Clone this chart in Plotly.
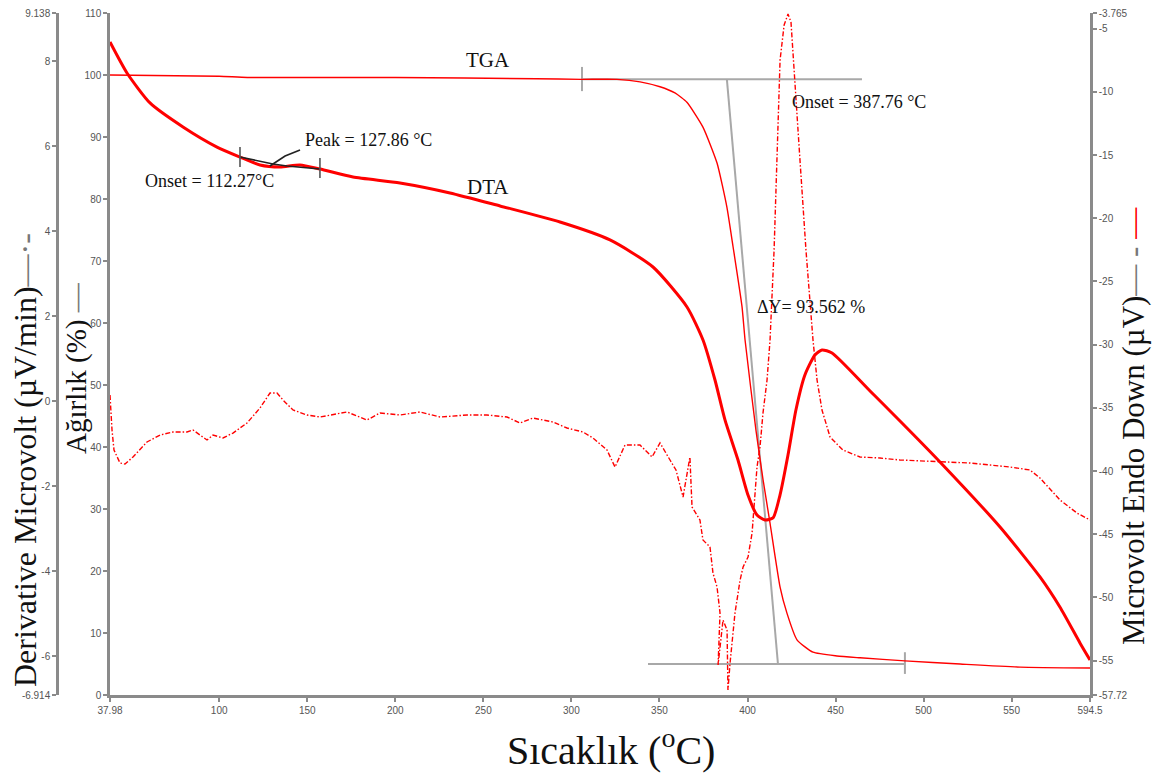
import plotly.graph_objects as go

# ---------------- data ----------------
# TGA : weight % (inner left axis)
tga_T = [37.98, 100, 116, 200, 280, 306, 325.9, 339.0, 350.3, 358.8, 365.6, 374.7, 382.7,
         388.3, 391.8, 396.9, 398.6, 404.8, 408.8, 412.8, 418.5, 422.4, 428.1, 437.2,
         450.8, 463.9, 489.4, 520.7, 554.8, 594.5]
tga_W = [100.0, 99.8, 99.6, 99.6, 99.4, 99.3, 99.3, 98.9, 98.1, 97.1, 95.6, 91.6, 85.8,
         78.7, 72.3, 62.6, 57.3, 42.7, 34.8, 27.7, 17.4, 13.2, 8.9, 6.9,
         6.3, 6.0, 5.5, 5.0, 4.5, 4.35]

# DTA : microvolt endo down (right axis)
dta_T = [37.98, 47.63, 60.69, 79.43, 98.74, 111.80, 123.16, 134.52, 145.87, 157.23, 175.97,
         202.66, 231.05, 259.45, 293.52, 321.91, 346.33, 365.64, 374.73, 381.54, 387.22,
         394.60, 400.28, 405.39, 409.93, 414.48, 418.45, 423.0, 427.5, 432.6, 438.3, 442.3,
         448.0, 469.6, 486.6, 509.3, 543.4, 566.1, 577.4, 588.8, 594.5]
dta_V = [-6.06, -8.51, -10.88, -12.78, -14.37, -15.16, -15.79, -15.95, -15.79, -16.11, -16.74,
         -17.21, -18.00, -19.03, -20.30, -21.72, -23.86, -27.02, -29.63, -32.80, -35.96,
         -39.13, -41.90, -43.48, -43.87, -43.71, -41.90, -38.73, -35.17, -32.40, -30.82, -30.42,
         -30.66, -33.67, -36.04, -39.28, -44.43, -48.38, -50.76, -53.60, -54.95]

# DTG : derivative microvolt (outer left axis)
dtg_T = [37.98, 39.12, 40.25, 43.66, 46.50, 51.04, 58.99, 66.38, 73.76, 81.71, 85.11, 89.09,
         93.06, 96.47, 102.15, 107.83, 115.78, 123.16, 128.84, 132.82, 136.22, 141.90, 149.85,
         157.24, 172.57, 183.93, 191.31, 202.67, 214.02, 225.38, 240.71, 252.07, 263.43,
         270.81, 278.19, 289.55, 297.50, 306.59, 312.27, 320.22, 324.76, 330.44, 338.96,
         345.77, 350.32, 356.0, 359.4, 363.4, 367.3, 368.5, 373.0, 374.7, 378.7, 380.4,
         382.7, 384.4, 383.3, 386.1, 388.4, 388.9, 390.1, 392.9, 395.8, 397.5, 400.3, 402.6,
         404.3, 405.4, 407.1, 408.8, 411.1, 412.8, 415.1, 416.8, 418.5, 420.8, 423.0, 424.7,
         426.99, 429.8, 433.2, 437.2, 439.5, 442.3, 446.9, 454.2, 463.9, 475.2, 486.6, 509.3,
         526.4, 537.7, 549.1, 560.4, 566.1, 577.5, 587.1, 594.5]
dtg_D = [0.147, -0.677, -1.148, -1.454, -1.478, -1.312, -0.959, -0.795, -0.724, -0.724, -0.677,
         -0.795, -0.912, -0.795, -0.865, -0.748, -0.512, -0.159, 0.194, 0.194, 0.029, -0.206,
         -0.324, -0.371, -0.253, -0.442, -0.277, -0.324, -0.253, -0.371, -0.324, -0.324,
         -0.371, -0.512, -0.394, -0.489, -0.630, -0.724, -0.865, -1.148, -1.548, -1.030,
         -1.030, -1.312, -0.983, -1.383, -1.618, -2.254, -1.312, -2.489, -2.795, -3.266,
         -3.431, -4.043, -4.372, -4.984, -6.208, -5.149, -5.384, -6.797, -6.161, -4.984,
         -4.207, -3.901, -3.666, -3.101, -2.254, -1.548, -1.077, -0.277, 0.500, 1.441, 3.560,
         5.984, 8.032, 8.856, 9.114, 8.926, 7.561, 5.678, 3.560, 1.441, 0.500, -0.206, -0.842,
         -1.148, -1.312, -1.336, -1.383, -1.430, -1.454, -1.501, -1.548, -1.618, -1.807,
         -2.325, -2.631, -2.795]

# TGA onset construction lines (weight axis)
tga_upper_T = [306.0, 465.0]
tga_upper_W = [99.3, 99.3]
tga_upper_tick_T = [306.0, 306.0]
tga_upper_tick_W = [101.3, 97.4]
tga_tangent_T = [388.3, 417.3]
tga_tangent_W = [99.3, 5.0]
tga_lower_T = [343.5, 489.4]
tga_lower_W = [5.0, 5.0]
tga_lower_tick_T = [489.4, 489.4]
tga_lower_tick_W = [6.9, 3.4]

# DTA onset/peak construction (right axis)
dta_base_T = [111.8, 130.5, 138.5, 157.2]
dta_base_V = [-15.16, -15.71, -15.87, -16.11]
dta_tick1_T = [111.8, 111.8]
dta_tick1_V = [-14.37, -15.95]
dta_tick2_T = [157.2, 157.2]
dta_tick2_V = [-15.24, -16.82]
dta_call_T = [128.8, 137.4, 145.9]
dta_call_V = [-15.87, -15.08, -14.6]

# axis ticks
x_ticks = [37.98, 100, 150, 200, 250, 300, 350, 400, 450, 500, 550, 594.5]
x_ticklabels = ["37.98", "100", "150", "200", "250", "300", "350", "400", "450", "500", "550", "594.5"]
w_ticks = [0, 10, 20, 30, 40, 50, 60, 70, 80, 90, 100, 110]
v_ticks = [-57.72, -55, -50, -45, -40, -35, -30, -25, -20, -15, -10, -5, -3.765]
v_ticklabels = ["-57.72", "-55", "-50", "-45", "-40", "-35", "-30", "-25", "-20", "-15", "-10", "-5", "-3.765"]
d_ticks = [-6.914, -6, -4, -2, 0, 2, 4, 6, 8, 9.138]
d_ticklabels = ["-6.914", "-6", "-4", "-2", "0", "2", "4", "6", "8", "9.138"]

# ---------------- figure ----------------
RED = "#ff0000"
GRAY = "#a8a8a8"
AX = "#8a8a8a"
W, H = 1153, 780
L_PX, R_PX, T_PX, B_PX = 110, 1090, 13, 695

fig = go.Figure()

# construction lines (gray)
for tx, ty in [(tga_upper_T, tga_upper_W), (tga_upper_tick_T, tga_upper_tick_W),
               (tga_tangent_T, tga_tangent_W), (tga_lower_T, tga_lower_W),
               (tga_lower_tick_T, tga_lower_tick_W)]:
    fig.add_trace(go.Scatter(x=tx, y=ty, mode="lines", line=dict(color=GRAY, width=2),
                             yaxis="y", showlegend=False, hoverinfo="skip"))

fig.add_trace(go.Scatter(x=tga_T, y=tga_W, mode="lines",
                         line=dict(color=RED, width=1.4, shape="spline", smoothing=0.5),
                         yaxis="y", name="TGA", showlegend=False))
fig.add_trace(go.Scatter(x=dtg_T, y=dtg_D, mode="lines",
                         line=dict(color=RED, width=1.4, dash="5px,2px,1.5px,2px"),
                         yaxis="y3", name="DTG", showlegend=False))
fig.add_trace(go.Scatter(x=dta_T, y=dta_V, mode="lines",
                         line=dict(color=RED, width=3, shape="spline", smoothing=0.6),
                         yaxis="y2", name="DTA", showlegend=False))

for tx, ty in [(dta_base_T, dta_base_V), (dta_tick1_T, dta_tick1_V),
               (dta_tick2_T, dta_tick2_V), (dta_call_T, dta_call_V)]:
    col = "#555555" if len(tx) == 2 else "#222222"
    fig.add_trace(go.Scatter(x=tx, y=ty, mode="lines", line=dict(color=col, width=1.6),
                             yaxis="y2", showlegend=False, hoverinfo="skip"))

tickfont = dict(family="Liberation Sans", size=10, color="#555555")
axis_common = dict(showline=True, linecolor=AX, linewidth=2.5, ticks="outside", ticklen=4,
                   tickcolor=AX, tickwidth=1.5, showgrid=False, zeroline=False, tickfont=tickfont,
                   automargin=False)

fig.update_layout(
    template="none",
    width=W, height=H,
    margin=dict(l=0, r=0, t=T_PX, b=H - B_PX),
    paper_bgcolor="white", plot_bgcolor="white",
    showlegend=False,
    xaxis=dict(domain=[L_PX / W, R_PX / W], range=[37.98, 594.5], tickmode="array",
               tickvals=x_ticks, ticktext=x_ticklabels, **axis_common),
    yaxis=dict(range=[0, 110], tickmode="array", tickvals=w_ticks, anchor="x", side="left",
               **axis_common),
    yaxis2=dict(range=[-57.72, -3.765], tickmode="array", tickvals=v_ticks, ticktext=v_ticklabels,
                overlaying="y", side="right", anchor="x", **axis_common),
    yaxis3=dict(range=[-6.914, 9.138], tickmode="array", tickvals=d_ticks, ticktext=d_ticklabels,
                overlaying="y", side="left", anchor="free", position=57 / W, **axis_common),
)

SERIF = "Liberation Serif"

def px(xp):
    return xp / W

def py(yp):
    return (B_PX - yp) / (B_PX - T_PX)

# text annotations on the data
labels = [
    ("TGA", 252.6, 102.4, "center", 21),
    ("DTA", 252.6, 81.9, "center", 21),
    ("Peak = 127.86 °C", 147.6, 89.5, "left", 18),
    ("Onset = 112.27°C", 56.7, 82.9, "left", 18),
    ("Onset = 387.76 °C", 424.1, 95.6, "left", 18),
    ("ΔY= 93.562 %", 404.3, 62.6, "left", 18),
]
for txt, xv, yv, anc, sz in labels:
    fig.add_annotation(text=txt, x=xv, y=yv, xref="x", yref="y", xanchor=anc, yanchor="middle",
                       showarrow=False, font=dict(family=SERIF, size=sz, color="#111111"))

# axis titles
fig.add_annotation(text="Sıcaklık (<sup>o</sup>C)", x=px(611), y=py(747), xref="paper", yref="paper",
                   xanchor="center", yanchor="middle", showarrow=False,
                   font=dict(family=SERIF, size=40, color="#111111"))
fig.add_annotation(text="Derivative Microvolt (µV/min)<span style='color:#777777'>—·-</span>",
                   x=px(25), y=py(460), xref="paper", yref="paper", textangle=-90,
                   xanchor="center", yanchor="middle", showarrow=False,
                   font=dict(family=SERIF, size=32, color="#111111"))
fig.add_annotation(text="Ağırlık (%) <span style='color:#777777'>—</span>",
                   x=px(76), y=py(368), xref="paper", yref="paper", textangle=-90,
                   xanchor="center", yanchor="middle", showarrow=False,
                   font=dict(family=SERIF, size=29, color="#111111"))
fig.add_annotation(text="Microvolt Endo Down (µV)<span style='color:#777777'>— - </span><span style='color:#ff0000'>—</span>",
                   x=px(1133), y=py(426), xref="paper", yref="paper", textangle=-90,
                   xanchor="center", yanchor="middle", showarrow=False,
                   font=dict(family=SERIF, size=31, color="#111111"))

fig.write_html("out.html")
